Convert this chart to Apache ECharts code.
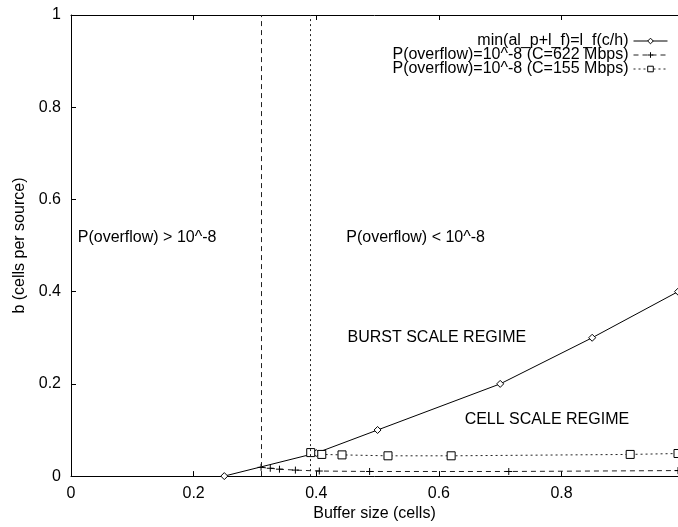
<!DOCTYPE html>
<html>
<head>
<meta charset="utf-8">
<script src="https://cdn.jsdelivr.net/npm/echarts@6/dist/echarts.min.js"></script>
<style>
html,body{margin:0;padding:0;background:#fff;}
#chart{width:678px;height:527px;}
</style>
</head>
<body>
<div id="chart"></div>
<script>
// ---- data ----
const seriesNames = ['min(al_p+l_f)=l_f(c/h)', 'P(overflow)=10^-8 (C=622 Mbps)', 'P(overflow)=10^-8 (C=155 Mbps)'];
const burstX = [0.25, 0.4, 0.5, 0.7, 0.85, 0.99];
const burstY = [0.0, 0.05, 0.1, 0.2, 0.3, 0.4];
const c622X = [0.31, 0.325, 0.34, 0.366, 0.405, 0.487, 0.714, 0.99];
const c622Y = [0.019, 0.017, 0.015, 0.013, 0.011, 0.010, 0.010, 0.012];
const c155X = [0.391, 0.409, 0.442, 0.517, 0.62, 0.912, 0.99];
const c155Y = [0.051, 0.047, 0.046, 0.044, 0.044, 0.047, 0.049];
const limit622 = 0.31;   // vertical boundary (622 Mbps)
const limit155 = 0.39;   // vertical boundary (155 Mbps)
const xTicks = [0, 0.2, 0.4, 0.6, 0.8];
const yTicks = [0, 0.2, 0.4, 0.6, 0.8, 1];
const annotations = [
  {text: 'P(overflow) > 10^-8', x: 0.011, y: 0.518},
  {text: 'P(overflow) < 10^-8', x: 0.449, y: 0.518},
  {text: 'BURST SCALE REGIME', x: 0.451, y: 0.300},
  {text: 'CELL SCALE REGIME', x: 0.642, y: 0.122}
];

const zip = (xs, ys) => xs.map((x, i) => [x, ys[i]]);
const FONT = "'Liberation Sans', Arial, Helvetica, sans-serif";
const FS = 16;
const plusPath = 'path://M0,5L10,5M5,0L5,10';

const chart = echarts.init(document.getElementById('chart'));

const xAxisBase = {
  type: 'value', min: 0, max: 0.99, interval: 0.2,
  axisLine: {show: true, lineStyle: {color: '#000', width: 1}},
  axisTick: {show: true, inside: true, length: 5, lineStyle: {color: '#000'}},
  splitLine: {show: false}
};
const legendBase = {
  orient: 'vertical', align: 'right', right: 10, padding: 0,
  itemWidth: 34, itemHeight: 7,
  lineStyle: {width: 1},
  itemStyle: {borderWidth: 1},
  textStyle: {fontFamily: FONT, fontSize: FS, color: '#000'}
};

chart.setOption({
  animation: false,
  backgroundColor: '#fff',
  grid: {left: 71, right: 0, top: 15, bottom: 45, containLabel: false},
  xAxis: [
    Object.assign({}, xAxisBase, {
      position: 'bottom',
      name: 'Buffer size (cells)', nameLocation: 'middle', nameGap: 28,
      nameTextStyle: {fontFamily: FONT, fontSize: FS, color: '#000'},
      axisLabel: {
        fontFamily: FONT, fontSize: FS, color: '#000', margin: 9,
        showMaxLabel: false,
        formatter: v => xTicks.some(t => Math.abs(t - v) < 1e-9) ? String(+v.toFixed(2)) : ''
      }
    }),
    Object.assign({}, xAxisBase, {position: 'top', axisLabel: {show: false}})
  ],
  yAxis: [{
    type: 'value', min: 0, max: 1, interval: 0.2,
    name: 'b (cells per source)', nameLocation: 'middle', nameGap: 42,
    nameTextStyle: {fontFamily: FONT, fontSize: FS, color: '#000'},
    axisLine: {show: true, lineStyle: {color: '#000', width: 1}},
    axisTick: {show: true, inside: true, length: 5, lineStyle: {color: '#000'}},
    axisLabel: {
      fontFamily: FONT, fontSize: FS, color: '#000', margin: 10,
      formatter: v => yTicks.some(t => Math.abs(t - v) < 1e-9) ? String(+v.toFixed(2)) : ''
    },
    splitLine: {show: false}
  }],
  legend: [
    Object.assign({}, legendBase, {top: 33, data: [seriesNames[0]]}),
    Object.assign({}, legendBase, {top: 47, data: [seriesNames[1]]}),
    Object.assign({}, legendBase, {top: 61, data: [seriesNames[2]]})
  ],
  series: [
    {
      name: seriesNames[0], type: 'line', data: zip(burstX, burstY),
      symbol: 'diamond', symbolSize: 7, showAllSymbol: true, clip: false,
      lineStyle: {color: '#000', width: 1, type: 'solid'},
      itemStyle: {color: '#fff', borderColor: '#000', borderWidth: 1}
    },
    {
      name: seriesNames[1], type: 'line', data: zip(c622X, c622Y),
      symbol: plusPath, symbolSize: 7, showAllSymbol: true,
      lineStyle: {color: '#222', width: 1, type: [5, 4]},
      itemStyle: {color: '#000', borderColor: '#000', borderWidth: 1},
      markLine: {
        silent: true, symbol: 'none', label: {show: false},
        lineStyle: {color: '#222', width: 1, type: [5, 4]},
        data: [{xAxis: limit622}]
      }
    },
    {
      name: seriesNames[2], type: 'line', data: zip(c155X, c155Y),
      symbol: 'rect', symbolSize: 8, showAllSymbol: true,
      lineStyle: {color: '#222', width: 1, type: [2, 3]},
      itemStyle: {color: '#fff', borderColor: '#000', borderWidth: 1},
      markLine: {
        silent: true, symbol: 'none', label: {show: false},
        lineStyle: {color: '#222', width: 1, type: [2, 3]},
        data: [{xAxis: limit155}]
      }
    }
  ]
});

// text annotations anchored in data coordinates
chart.setOption({
  graphic: annotations.map(a => {
    const p = chart.convertToPixel({gridIndex: 0}, [a.x, a.y]);
    return {
      type: 'text', x: p[0], y: p[1], silent: true,
      style: {text: a.text, fontFamily: FONT, fontSize: FS, fill: '#000', textAlign: 'left', textVerticalAlign: 'middle'}
    };
  })
});
</script>
</body>
</html>
